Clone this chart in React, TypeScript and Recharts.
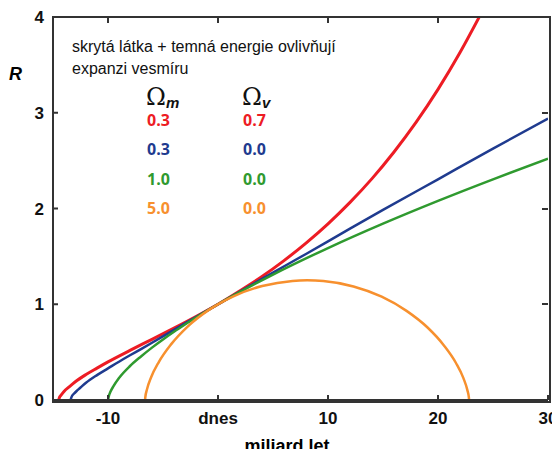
import { LineChart, Line, XAxis, YAxis } from 'recharts';

// time in billions of years relative to today, scale factor R
const xDomain = [-15, 30];
const yDomain = [0, 4];
const xTicks = [-10, 0, 10, 20, 30];
const xTicksTop = [-10, 0, 10, 20];
const yTicks = [0, 1, 2, 3, 4];
const yTicksRight = [1, 2, 3];

// Ωm = 0.3, Ωv = 0.7
const curveRed: [number, number][] = [
  [-14.48, 0], [-14.4, 0.03], [-14.3, 0.046], [-14, 0.089], [-13.5, 0.14], [-13, 0.188],
  [-12, 0.266], [-11, 0.333], [-10, 0.398], [-8, 0.518], [-6, 0.634], [-4, 0.751],
  [-2, 0.872], [0, 1.0], [2, 1.141], [4, 1.29], [6, 1.456], [8, 1.639], [10, 1.84],
  [12, 2.064], [14, 2.312], [16, 2.59], [18, 2.899], [20, 3.244], [22, 3.629], [23.75, 4.0],
];

// Ωm = 0.3, Ωv = 0.0
const curveBlue: [number, number][] = [
  [-13.4, 0], [-13.3, 0.035], [-13.1, 0.065], [-12.8, 0.1], [-12.5, 0.13], [-12, 0.18],
  [-11, 0.26], [-10, 0.33], [-9, 0.4], [-8, 0.467], [-7, 0.532], [-6, 0.598],
  [-4, 0.733], [-2, 0.866], [0, 1.0], [2, 1.133], [5, 1.33], [8, 1.525], [12, 1.79],
  [15, 1.985], [20, 2.305], [25, 2.625], [30, 2.94],
];

// Ωm = 1.0, Ωv = 0.0
const curveGreen: [number, number][] = [
  [-10, 0], [-9.9, 0.05], [-9.8, 0.08], [-9.5, 0.145], [-9, 0.23], [-8, 0.355],
  [-7, 0.455], [-6, 0.547], [-5, 0.632], [-4, 0.712], [-3, 0.788], [-2, 0.862],
  [-1, 0.932], [0, 1.0], [2, 1.129], [5, 1.31], [10, 1.587], [15, 1.842],
  [20, 2.08], [25, 2.305], [30, 2.52],
];

// Ωm = 5.0, Ωv = 0.0
const curveOrange: [number, number][] = [
  [-6.63, 0], [-6.61, 0.028], [-6.46, 0.109], [-6.08, 0.237], [-5.37, 0.399], [-4.27, 0.581],
  [-2.76, 0.767], [-0.83, 0.941], [1.45, 1.086], [4.02, 1.19], [6.77, 1.244], [8.1, 1.25],
  [9.58, 1.242], [12.32, 1.186], [14.88, 1.079], [17.14, 0.931], [19.05, 0.757],
  [20.54, 0.57], [21.62, 0.389], [22.31, 0.228], [22.67, 0.103], [22.81, 0.025], [22.82, 0],
];

const omegaM = ['0.3', '0.3', '1.0', '5.0'];
const omegaV = ['0.7', '0.0', '0.0', '0.0'];

const colors = ['#ed1c24', '#1f3b8f', '#2f9a2f', '#f7902e'];
const widths = [3, 2.5, 2.5, 2.5];

const toRows = (pts: [number, number][]) => pts.map(([t, r]) => ({ t, r }));

const series = [curveRed, curveBlue, curveGreen, curveOrange].map(toRows);

const W = 560;
const H = 457;
const plot = { left: 53, top: 17, right: 548, bottom: 400 };
const xAxisH = 30;

const axisColor = '#333';
const tickFont = { fontFamily: 'Liberation Sans, Arial, sans-serif', fontWeight: 700, fontSize: 17, fill: '#111' };

// ticks on the top and right sides of the frame
const sx = (v: number) =>
  plot.left + ((v - xDomain[0]) / (xDomain[1] - xDomain[0])) * (plot.right - plot.left);
const sy = (v: number) =>
  plot.bottom - ((v - yDomain[0]) / (yDomain[1] - yDomain[0])) * (plot.bottom - plot.top);

export default function App() {
  return (
    <div style={{ position: 'relative', margin: -8, width: W, height: H, background: '#fff' }}>
      <div
        style={{
          position: 'absolute',
          left: plot.left - 1,
          top: plot.top - 1,
          width: plot.right - plot.left,
          height: plot.bottom - plot.top,
          border: `2px solid ${axisColor}`,
          boxSizing: 'content-box',
          pointerEvents: 'none',
          zIndex: 5,
        }}
      />
      {xTicksTop.map((v) => (
        <div
          key={`tx${v}`}
          style={{ position: 'absolute', zIndex: 5, left: sx(v) - 1, top: plot.top, width: 2, height: 6, background: axisColor }}
        />
      ))}
      {yTicksRight.map((v) => (
        <div
          key={`ty${v}`}
          style={{ position: 'absolute', zIndex: 5, left: plot.right - 6, top: sy(v) - 1, width: 6, height: 2, background: axisColor }}
        />
      ))}

      <LineChart
        width={W}
        height={H}
        margin={{ top: plot.top, right: W - plot.right, bottom: H - plot.bottom - xAxisH, left: 0 }}
      >
        <XAxis
          dataKey="t"
          type="number"
          domain={xDomain}
          ticks={xTicks}
          allowDataOverflow
          tickFormatter={(v: number) => (v === 0 ? 'dnes' : String(v))}
          tickSize={-5}
          tickMargin={17}
          height={xAxisH}
          stroke={axisColor}
          strokeWidth={2}
          tick={tickFont}
          interval={0}
        />
        <YAxis
          type="number"
          domain={yDomain}
          ticks={yTicks}
          allowDataOverflow
          tickSize={-5}
          tickMargin={14}
          width={plot.left}
          stroke={axisColor}
          strokeWidth={2}
          tick={tickFont}
          interval={0}
        />
        {series.map((d, i) => (
          <Line
            key={i}
            data={d}
            dataKey="r"
            type="monotone"
            stroke={colors[i]}
            strokeWidth={widths[i]}
            dot={false}
            activeDot={false}
            isAnimationActive={false}
          />
        ))}
      </LineChart>

      <div
        style={{
          position: 'absolute',
          left: 9,
          top: 62,
          fontFamily: 'Liberation Sans, Arial, sans-serif',
          fontWeight: 700,
          fontStyle: 'italic',
          fontSize: 18,
          lineHeight: '24px',
        }}
      >
        R
      </div>
      <div
        style={{
          position: 'absolute',
          left: 0,
          width: 574,
          top: 437,
          textAlign: 'center',
          fontFamily: 'Liberation Sans, Arial, sans-serif',
          fontWeight: 700,
          fontSize: 18,
          lineHeight: '18px',
        }}
      >
        miliard let
      </div>

      <div
        style={{
          position: 'absolute',
          left: 72,
          top: 36,
          fontFamily: '"Liberation Sans Narrow", "Liberation Sans", Arial, sans-serif',
          fontSize: 16,
          lineHeight: '22px',
          color: '#111',
        }}
      >
        skrytá látka + temná energie ovlivňují
        <br />
        expanzi vesmíru
      </div>

      {[
        { sub: 'm', left: 146 },
        { sub: 'v', left: 242 },
      ].map((h) => (
        <div key={h.sub} style={{ position: 'absolute', left: h.left, top: 84, lineHeight: '26px', color: '#111' }}>
          <span style={{ fontFamily: '"DejaVu Serif", "Liberation Serif", serif', fontSize: 24 }}>Ω</span>
          <span
            style={{
              fontFamily: 'Liberation Sans, Arial, sans-serif',
              fontStyle: 'italic',
              fontWeight: 700,
              fontSize: 15,
              position: 'relative',
              top: 3,
            }}
          >
            {h.sub}
          </span>
        </div>
      ))}

      {omegaM.map((m, i) => (
        <div
          key={i}
          style={{
            position: 'absolute',
            top: 110 + i * 29.3,
            fontFamily: '"Open Sans", sans-serif',
            fontWeight: 700,
            fontSize: 16,
            lineHeight: '20px',
            color: colors[i],
          }}
        >
          <span style={{ position: 'absolute', left: 147 }}>{m}</span>
          <span style={{ position: 'absolute', left: 243 }}>{omegaV[i]}</span>
        </div>
      ))}
    </div>
  );
}
